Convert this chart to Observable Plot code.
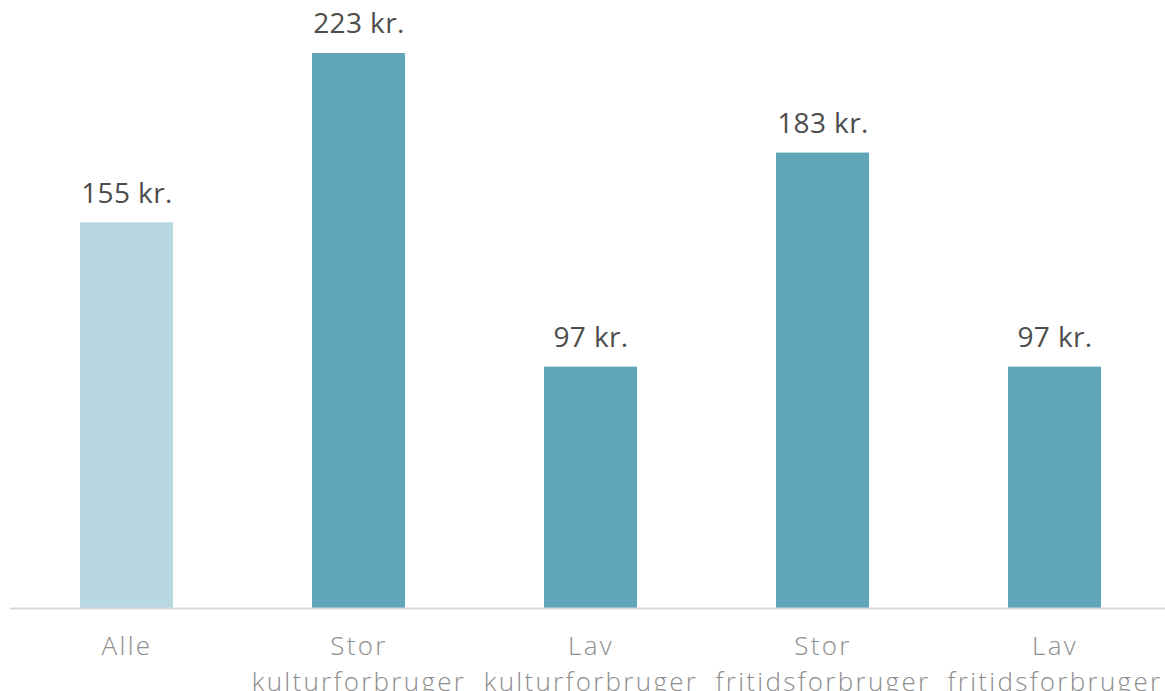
<!DOCTYPE html>
<html>
<head>
<meta charset="utf-8">
<script src="https://cdn.jsdelivr.net/npm/d3@7"></script>
<script src="https://cdn.jsdelivr.net/npm/@observablehq/plot@0.6"></script>
<style>
  html, body { margin: 0; padding: 0; background: #fff; }
  #chart svg { display: block; }
  #chart g[aria-label="x-axis tick label"] text { letter-spacing: 2.3px; }
  #chart g[aria-label="text"] text { letter-spacing: 0.4px; }
</style>
</head>
<body>
<div id="chart"></div>
<script>
const categories = ["Alle", "Stor\nkulturforbruger", "Lav\nkulturforbruger", "Stor\nfritidsforbruger", "Lav\nfritidsforbruger"];
const values = [155, 223, 97, 183, 97];
const labels = ["155 kr.", "223 kr.", "97 kr.", "183 kr.", "97 kr."];
const groups = ["alle", "seg", "seg", "seg", "seg"];

const data = categories.map((c, i) => ({category: c, value: values[i], label: labels[i], group: groups[i]}));

const font = "'Open Sans', Lato, sans-serif";

const chart = Plot.plot({
  width: 1165,
  height: 691,
  marginTop: 0,
  marginBottom: 83,
  marginLeft: 10,
  marginRight: -5,
  style: {fontFamily: font, background: "#fff"},
  x: {domain: categories, paddingInner: 0.6, paddingOuter: 0.3, label: null},
  y: {domain: [0, 244.3], axis: null},
  color: {domain: ["alle", "seg"], range: ["#b7d7e1", "#61a5b8"]},
  marks: [
    Plot.barY(data, {x: "category", y: "value", fill: "group"}),
    Plot.ruleY([0], {stroke: "#d9d9d9", strokeWidth: 2}),
    Plot.text(data, {x: "category", y: "value", text: "label", dy: -29, fontSize: 28, fill: "#4d4d4d", fontWeight: 400}),
    Plot.axisX({tickSize: 0, tickPadding: 22, fontSize: 26, fill: "#8c8c8c", fontWeight: 300, lineHeight: 1.35, lineAnchor: "top", label: null})
  ]
});
document.getElementById("chart").appendChild(chart);
</script>
</body>
</html>
